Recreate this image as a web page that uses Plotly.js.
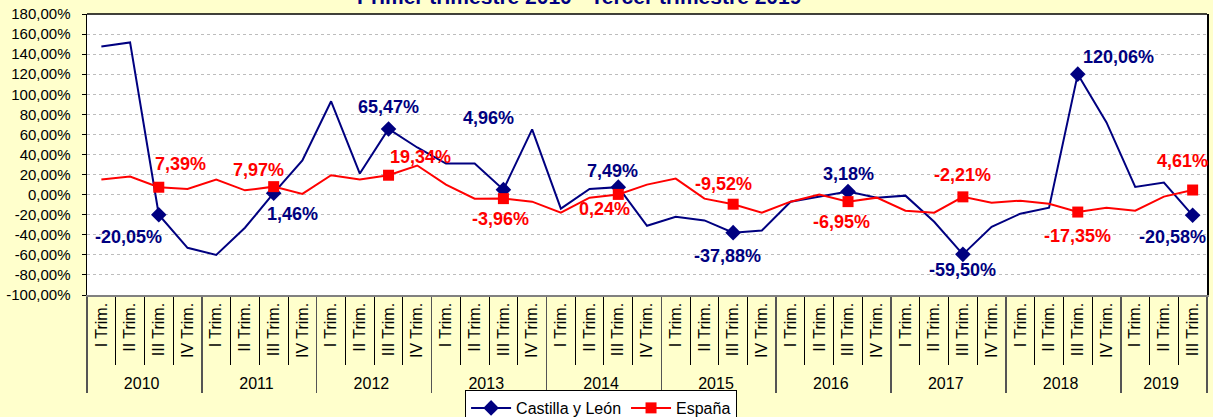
<!DOCTYPE html>
<html><head><meta charset="utf-8">
<script src="https://cdn.plot.ly/plotly-3.0.1.min.js"></script>
<style>html,body{margin:0;padding:0;background:#FFFFCC}</style>
</head><body><div id="chart" style="width:1213px;height:417px"></div>
<script>
const years = ['2010','2011','2012','2013','2014','2015','2016','2017','2018','2019'];
const quartersPerYear = [4,4,4,4,4,4,4,4,4,3];
const quarterNames = ['I Trim.','II Trim.','III Trim.','IV Trim.'];
const castillaYLeon = [147.7, 151.7, -20.05, -53, -60, -33, 1.46, 34, 93, 21, 65.47, 47, 31, 31, 4.96, 65, -14, 5.7, 7.49, -31, -22, -25.7, -37.88, -35.7, -7, -2, 3.18, -3, -1, -27, -59.50, -32, -19, -13, 120.06, 72, 7.7, 12, -20.58];
const espana = [15, 18, 7.39, 5.7, 15, 4.3, 7.97, 0.7, 19.3, 15, 19.34, 29, 10, -4, -3.96, -7, -18, -3, 0.24, 10, 16, -4, -9.52, -18, -7, 0, -6.95, -3, -16, -18, -2.21, -8, -6, -9, -17.35, -13, -16, -2, 4.61];
const yTicks = [-100,-80,-60,-40,-20,0,20,40,60,80,100,120,140,160,180];
const titleText = 'Primer trimestre 2010 - Tercer trimestre 2019';
const labelledQuarter = 'III Trim.';

// label offsets (px) for the labelled points, in order
const navyOffsets = [[-30,22],[19,21],[0,-22],[-15,-72],[-6,-16],[-6,23],[0,-17],[0,16],[41,-17],[-20,22]];
const redOffsets = [[22,-23],[-15,-17],[32,-18],[-3,20],[-14,15],[-10,-20],[-7,20],[0,-22],[0,24],[-10,-29]];

const FONT = 'Liberation Sans, Arial, sans-serif';
const NAVY = '#000080', RED = '#FF0000';

const yearCol = [], quarterCol = [];
years.forEach((y, k) => { for (let q = 0; q < quartersPerYear[k]; q++) { yearCol.push(y); quarterCol.push(quarterNames[q]); } });
const n = quarterCol.length;
const fmt = v => v.toFixed(2).replace('.', ',') + '%';

function series(name, vals, color, symbol, size) {
  const marked = vals.map((v, i) => quarterCol[i] === labelledQuarter ? v : null);
  return [
    {x: [yearCol, quarterCol], y: vals, type: 'scatter', mode: 'lines', line: {color, width: 2},
     showlegend: false, legendgroup: name, hoverinfo: 'skip'},
    {x: [yearCol, quarterCol], y: marked, type: 'scatter', mode: 'lines+markers', name,
     line: {color, width: 2}, marker: {color, symbol, size}, connectgaps: false, legendgroup: name}
  ];
}

const annotations = [];
function addLabels(vals, color, offsets) {
  let k = 0;
  vals.forEach((v, i) => {
    if (quarterCol[i] !== labelledQuarter) return;
    const o = offsets[k++];
    annotations.push({x: i, y: v, xref: 'x', yref: 'y', text: '<b>' + fmt(v) + '</b>', showarrow: false,
      xanchor: 'center', yanchor: 'middle', xshift: o[0], yshift: -o[1],
      font: {family: FONT, size: 18, color}});
  });
}
addLabels(castillaYLeon, NAVY, navyOffsets);
addLabels(espana, RED, redOffsets);

annotations.push({xref: 'paper', yref: 'paper', x: 0.439, y: 1.016, xanchor: 'center', yanchor: 'bottom',
  text: '<b>' + titleText + '</b>', showarrow: false, font: {family: FONT, size: 21, color: NAVY}});

const yMin = -100, yMax = 180;
const zeroPos = (0 - yMin) / (yMax - yMin);
const boundaries = [];
for (let i = 0; i < n - 1; i++) boundaries.push(i + 0.5);

const data = [...series('Castilla y León', castillaYLeon, NAVY, 'diamond', 12),
              ...series('España', espana, RED, 'square', 11)];

const layout = {
  width: 1213, height: 417,
  paper_bgcolor: '#FFFFCC', plot_bgcolor: '#FFFFFF',
  margin: {l: 87, r: 6, t: 14, b: 122, autoexpand: false},
  font: {family: FONT, size: 15, color: '#000'},
  showlegend: true,
  legend: {orientation: 'h', x: 0.459, xanchor: 'center', y: -0.338, yanchor: 'top',
    bgcolor: '#FFFFFF', bordercolor: '#000', borderwidth: 1, font: {family: FONT, size: 16},
    itemwidth: 40, traceorder: 'normal'},
  xaxis: {type: 'multicategory', range: [-0.5, n - 0.5], tickangle: -90, showgrid: false,
    ticks: 'outside', tickson: 'boundaries', ticklen: 68, tickcolor: '#000', tickwidth: 1,
    showline: true, linecolor: '#808080', linewidth: 1.5, showdividers: true,
    dividercolor: '#555', dividerwidth: 1.5, tickfont: {family: FONT, size: 16, color: '#000'},
    zeroline: false, fixedrange: true, automargin: false},
  xaxis2: {overlaying: 'x', anchor: 'free', position: zeroPos, type: 'linear', range: [-0.5, n - 0.5],
    tickvals: boundaries, showticklabels: false, ticks: 'outside', ticklen: 5, tickcolor: '#000',
    showline: true, linecolor: '#000', linewidth: 1.2, showgrid: false, zeroline: false, side: 'bottom', automargin: false},
  yaxis: {range: [yMin, yMax], tickvals: yTicks, ticktext: yTicks.map(fmt), ticks: 'outside', ticklen: 4,
    tickcolor: '#000', showline: true, linecolor: '#000', linewidth: 1.5, mirror: true,
    showgrid: true, gridcolor: '#BDBDBD', griddash: 'dot', gridwidth: 1, zeroline: false, automargin: false,
    tickfont: {family: FONT, size: 15, color: '#000'}, ticklabelstandoff: 8},
  shapes: [{type: 'line', xref: 'paper', yref: 'paper', x0: 0, x1: 1, y0: 1, y1: 1, line: {color: '#000', width: 1.5}}],
  annotations
};

Plotly.newPlot('chart', data, layout, {displayModeBar: false, staticPlot: true});
</script></body></html>
